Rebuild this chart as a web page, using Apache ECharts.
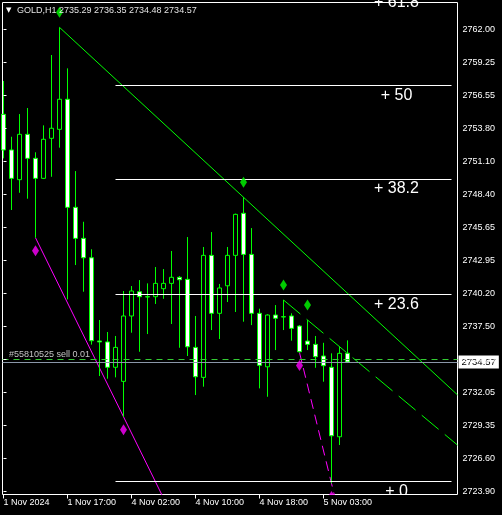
<!DOCTYPE html>
<html>
<head>
<meta charset="utf-8">
<script src="https://cdn.jsdelivr.net/npm/echarts@6/dist/echarts.min.js"></script>
<style>
  html, body { margin: 0; padding: 0; background: #000; }
  #chart { width: 502px; height: 515px; }
</style>
</head>
<body>
<div id="chart"></div>
<script>
// GOLD H1 bars, 1 Nov 09:00 .. 5 Nov 06:00
const symbolName = 'GOLD,H1';
const open = [2754.99, 2752.05, 2749.60, 2753.34, 2751.36, 2749.71, 2753.01, 2753.75, 2756.23, 2747.32,
  2744.76, 2743.16, 2736.30, 2736.22, 2734.13, 2732.97, 2738.36, 2740.36, 2739.95, 2739.95,
  2740.61, 2741.05, 2741.55, 2741.38, 2735.77, 2733.30, 2743.36, 2738.58, 2740.85, 2743.36,
  2746.83, 2743.44, 2738.58, 2734.17, 2738.44, 2738.30, 2738.36, 2737.53, 2736.29, 2736.02,
  2735.06, 2734.13, 2728.40, 2735.29];
const high = [2757.74, 2753.14, 2755.01, 2755.51, 2751.86, 2754.08, 2759.88, 2762.16, 2758.78, 2750.31,
  2746.13, 2743.86, 2738.03, 2737.04, 2736.71, 2740.42, 2740.83, 2741.32, 2741.05, 2742.40,
  2742.23, 2743.72, 2741.65, 2744.87, 2738.36, 2744.05, 2745.28, 2741.00, 2744.05, 2746.80,
  2748.15, 2745.61, 2738.96, 2738.50, 2739.26, 2739.68, 2738.58, 2737.61, 2738.03, 2736.71,
  2736.15, 2735.28, 2735.82, 2736.35];
const low = [2751.36, 2747.10, 2748.52, 2748.03, 2744.81, 2749.65, 2749.84, 2752.24, 2739.73, 2742.56,
  2740.36, 2736.00, 2733.41, 2733.19, 2733.30, 2730.05, 2736.98, 2735.41, 2736.87, 2739.35,
  2739.78, 2737.70, 2735.74, 2735.06, 2731.84, 2732.53, 2737.20, 2736.46, 2739.51, 2738.69,
  2737.89, 2737.61, 2732.39, 2731.70, 2735.55, 2737.20, 2736.32, 2735.35, 2735.55, 2734.09,
  2732.94, 2724.55, 2727.72, 2734.48];
const close = [2752.05, 2749.71, 2753.34, 2751.36, 2749.71, 2752.93, 2753.84, 2756.23, 2747.32, 2744.76,
  2743.16, 2736.32, 2736.22, 2734.13, 2735.77, 2738.36, 2740.42, 2739.95, 2739.93, 2741.05,
  2741.05, 2741.55, 2741.35, 2735.82, 2733.35, 2743.36, 2738.58, 2740.67, 2743.36, 2746.74,
  2743.44, 2738.58, 2734.29, 2738.44, 2738.17, 2738.28, 2737.34, 2735.41, 2736.02, 2735.00,
  2734.26, 2728.48, 2735.28, 2734.57];

const timeTicks = [0, 8, 16, 24, 32, 40];
const timeLabels = ['1 Nov 2024', '1 Nov 17:00', '4 Nov 02:00', '4 Nov 10:00', '4 Nov 18:00', '5 Nov 03:00'];
const priceTicks = [2723.90, 2726.60, 2729.35, 2732.05, 2734.80, 2737.50, 2740.20, 2742.95,
  2745.65, 2748.40, 2751.10, 2753.80, 2756.55, 2759.25, 2762.00];

const fractalUp = [7, 30, 35, 38];
const fractalDown = [4, 15, 37, 41];

const fibLevels = [0, 23.6, 38.2, 50, 61.8];
const fibZero = 2724.72;
const fibFull = 2789.98;
const fibFrom = 14;
const fibTo = 56;

const orderText = '#55810525 sell 0.01';
const orderPrice = 2734.78;

const X_MIN = -0.125, X_MAX = 56.75;
const Y_MIN = 2723.64, Y_MAX = 2764.21;
const GREEN = '#00ff00', MAGENTA = '#ff00ff';
const FONT = '"Liberation Sans", Arial, sans-serif';

const last = open.length - 1;
const bid = close[last];
const fibPrice = l => fibZero + (fibFull - fibZero) * l / 100;

// line through two bars, carried on to the right edge
function ray(i1, p1, i2, p2) {
  const k = (p2 - p1) / (i2 - i1);
  return [[i1, p1], [X_MAX, p1 + k * (X_MAX - i1)]];
}

function trendSeries(points, color, dash) {
  return {
    type: 'line',
    data: points,
    symbol: 'none',
    silent: true,
    clip: true,
    z: 3,
    lineStyle: { color: color, width: 1, type: dash || 'solid' }
  };
}

const chart = echarts.init(document.getElementById('chart'));

const option = {
  backgroundColor: '#000',
  animation: false,
  grid: {
    left: 2.5, top: 2.5, right: 44.5, bottom: 20.5,
    show: true, borderColor: '#fff', borderWidth: 1,
    containLabel: false, outerBoundsMode: 'none'
  },
  xAxis: {
    type: 'value',
    min: X_MIN, max: X_MAX,
    z: 10,
    axisLine: { show: false },
    splitLine: { show: false },
    axisTick: { show: true, length: 4, lineStyle: { color: '#fff' }, customValues: timeTicks },
    axisLabel: {
      customValues: timeTicks,
      color: '#fff', fontFamily: FONT, fontSize: 9, margin: 4, align: 'left',
      formatter: v => timeLabels[timeTicks.indexOf(Math.round(v))] || ''
    }
  },
  yAxis: {
    type: 'value',
    position: 'right',
    min: Y_MIN, max: Y_MAX,
    z: 10,
    axisLine: { show: false },
    splitLine: { show: false },
    axisTick: { show: true, length: 3, lineStyle: { color: '#fff' }, customValues: priceTicks },
    axisLabel: {
      customValues: priceTicks,
      color: '#fff', fontFamily: FONT, fontSize: 9, margin: 5,
      formatter: v => v.toFixed(2)
    }
  },
  graphic: [
    { id: 'arrow', type: 'text', left: 6, top: 7, z: 20, style: { text: '▼', fill: '#fff', font: '7px "DejaVu Sans"' } },
    {
      id: 'caption', type: 'text', left: 17, top: 6, z: 20,
      style: {
        text: symbolName + ' ' + [open[last], high[last], low[last], close[last]].map(v => v.toFixed(2)).join(' '),
        fill: '#e2e2e2', font: '9px ' + FONT
      }
    },
    { id: 'cover', type: 'rect', left: 0, top: 495, z: 8, shape: { width: 457, height: 20 }, style: { fill: '#000' } }
  ],
  series: [
    {
      type: 'line',
      name: 'fibo',
      data: [],
      silent: true,
      markLine: {
        silent: true,
        symbol: 'none',
        animation: false,
        lineStyle: { color: '#fff', width: 1, type: 'solid' },
        label: {
          position: 'insideEndBottom',
          distance: [55, 10],
          align: 'center',
          verticalAlign: 'middle',
          color: '#fff',
          fontFamily: FONT,
          fontSize: 16
        },
        data: fibLevels.map(l => [
          { coord: [fibFrom, fibPrice(l)], label: { formatter: '+ ' + l } },
          { coord: [fibTo, fibPrice(l)] }
        ])
      }
    },
    trendSeries(ray(7, high[7], 30, high[30]), GREEN),
    trendSeries(ray(35, high[35], 38, high[38]), GREEN, [22, 8]),
    trendSeries(ray(4, low[4], 15, low[15]), MAGENTA),
    trendSeries(ray(37, low[37], 41, low[41]), MAGENTA, [10, 6]),
    {
      type: 'candlestick',
      data: open.map((o, i) => [i, o, close[i], low[i], high[i]]),
      encode: { x: 0, y: [1, 2, 3, 4] },
      barWidth: 5,
      z: 4,
      itemStyle: {
        color: '#000', color0: '#fff',
        borderColor: GREEN, borderColor0: GREEN, borderColorDoji: GREEN,
        borderWidth: 1
      },
      markLine: {
        silent: true,
        symbol: 'none',
        animation: false,
        data: [
          {
            yAxis: orderPrice,
            lineStyle: { color: '#33cc33', width: 1, type: [6, 5] },
            label: {
              position: 'insideStartTop', distance: [6.5, 0.5],
              formatter: orderText, color: '#c4c4c4', fontFamily: FONT, fontSize: 9
            }
          },
          {
            yAxis: bid,
            lineStyle: { color: '#8a96a8', width: 1, type: 'solid' },
            label: {
              position: 'end', distance: [1, 0],
              formatter: bid.toFixed(2), color: '#000', backgroundColor: '#fff',
              padding: [2, 3, 1, 3], fontFamily: FONT, fontSize: 9.5
            }
          }
        ]
      }
    },
    {
      type: 'scatter',
      data: fractalUp.map(i => [i, high[i]]),
      symbol: 'diamond', symbolSize: [7, 11], symbolOffset: [0, -15],
      itemStyle: { color: GREEN }, silent: true, z: 6, clip: true
    },
    {
      type: 'scatter',
      data: fractalDown.map(i => [i, low[i]]),
      symbol: 'diamond', symbolSize: [7, 11], symbolOffset: [0, 13],
      itemStyle: { color: MAGENTA }, silent: true, z: 6, clip: true
    }
  ]
};

chart.setOption(option);

// fibo levels above the visible range still show their caption at the top edge
const labelled = fibLevels.filter(l => fibPrice(l) > Y_MAX).map(l => {
  const pt = chart.convertToPixel({ gridIndex: 0 }, [fibTo, fibPrice(l)]);
  return {
    id: 'fib' + l, type: 'text', z: 4,
    x: pt[0] - 55, y: pt[1] + 10,
    style: { text: '+ ' + l, fill: '#fff', font: '16px ' + FONT, align: 'center', verticalAlign: 'middle' }
  };
});
chart.setOption({ graphic: labelled });
</script>
</body>
</html>
